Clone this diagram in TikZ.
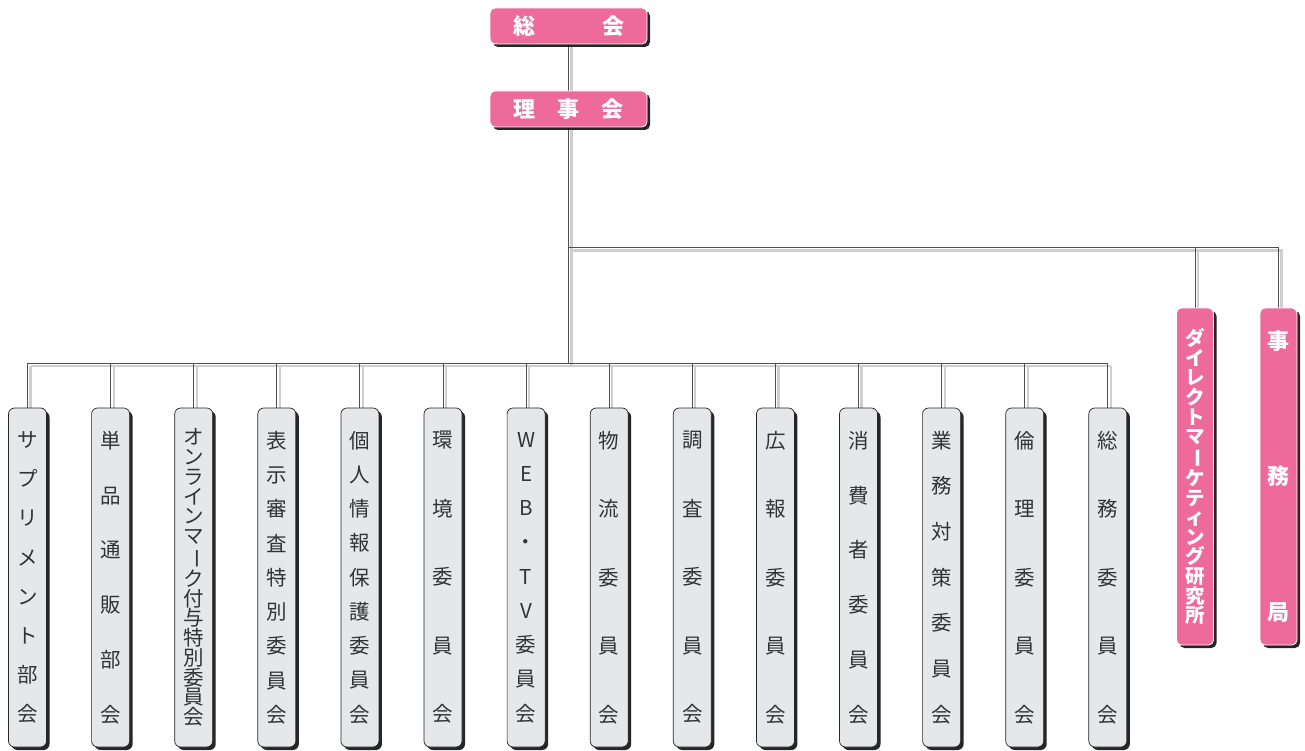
\documentclass[tikz,border=0pt]{standalone}
\usepackage{fontspec}
\usepackage{graphicx}
\newfontfamily\cjk{Noto Sans CJK JP}
\usetikzlibrary{shadows}
\definecolor{pinkc}{HTML}{EE6A9B}
\definecolor{grayc}{HTML}{E6E7E9}
\definecolor{linec}{HTML}{505050}
\definecolor{shc}{HTML}{CFCFCF}
\newcommand\vbar{\rotatebox[origin=c]{-90}{ー}}
\pgfdeclarelayer{bg}
\pgfdeclarelayer{lines}
\pgfsetlayers{bg,lines,main}
\tikzset{
  conn/.style={draw=linec, line width=1pt},
  connsh/.style={draw=shc, line width=2.2pt, transform canvas={xshift=3pt,yshift=-3pt}},
  boxshadow/.style={drop shadow={shadow xshift=3pt, shadow yshift=-3pt, fill=black, opacity=0.85}},
  pbox/.style={rounded corners=5pt, fill=pinkc, draw=white, line width=0.8pt, text=white,
    inner sep=0pt, align=center, boxshadow},
  gbox/.style={rounded corners=6pt, fill=grayc, draw=black!85, line width=0.7pt, text=black!80,
    minimum width=38pt, minimum height=339pt, inner sep=0pt, align=center, boxshadow,
    font=\cjk\fontsize{20.5}{#1}\selectfont},
}
\begin{document}
\begin{tikzpicture}[x=1pt,y=-1pt]
\begin{pgfonlayer}{bg}
\fill[white] (0,0) rectangle (1305,751);
\end{pgfonlayer}
\useasboundingbox (0,0) rectangle (1305,751);

% top boxes
\node[pbox, minimum width=157pt, minimum height=36pt, font=\cjk\bfseries\fontsize{22}{26}\selectfont]
  (soukai) at (568.5,26) {総\hspace{67pt}会};
\node[pbox, minimum width=157pt, minimum height=36pt, font=\cjk\bfseries\fontsize{22}{26}\selectfont]
  (riji) at (568.5,109) {理\hspace{22.5pt}事\hspace{22.5pt}会};

% right pink tall boxes
\node[pbox, minimum width=37pt, minimum height=337pt, font=\cjk\bfseries\fontsize{19.5}{19.6}\selectfont]
  (dm) at (1195,476.5) {ダ\\イ\\レ\\ク\\ト\\マ\\\vbar\\ケ\\テ\\ィ\\ン\\グ\\研\\究\\所};
\node[pbox, minimum width=37pt, minimum height=337pt, font=\cjk\bfseries\fontsize{22}{135.5}\selectfont]
  (jim) at (1278.5,476.5) {事\\務\\局};

% gray committee boxes
\node[gbox=39.14] (g1) at (27.5,577.5) {サ\\プ\\リ\\メ\\ン\\ト\\部\\会};
\node[gbox=54.8] (g2) at (110.6,577.5) {単\\品\\通\\販\\部\\会};
\node[gbox=19.7] (g3) at (193.7,577.5) {オ\\ン\\ラ\\イ\\ン\\マ\\\vbar\\ク\\付\\与\\特\\別\\委\\員\\会};
\node[gbox=34.25] (g4) at (276.8,577.5) {表\\示\\審\\査\\特\\別\\委\\員\\会};
\node[gbox=34.25] (g5) at (359.9,577.5) {個\\人\\情\\報\\保\\護\\委\\員\\会};
\node[gbox=68.5] (g6) at (443.0,577.5) {環\\境\\委\\員\\会};
\node[gbox=34.25] (g7) at (526.1,577.5) {W\\E\\B\\・\\T\\V\\委\\員\\会};
\node[gbox=68.5] (g8) at (609.2,577.5) {物\\流\\委\\員\\会};
\node[gbox=68.5] (g9) at (692.3,577.5) {調\\査\\委\\員\\会};
\node[gbox=68.5] (g10) at (775.4,577.5) {広\\報\\委\\員\\会};
\node[gbox=54.8] (g11) at (858.5,577.5) {消\\費\\者\\委\\員\\会};
\node[gbox=45.67] (g12) at (941.6,577.5) {業\\務\\対\\策\\委\\員\\会};
\node[gbox=68.5] (g13) at (1024.7,577.5) {倫\\理\\委\\員\\会};
\node[gbox=68.5] (g14) at (1107.8,577.5) {総\\務\\委\\員\\会};

\coordinate (ju) at (568.5,247.5);
\coordinate (jl) at (568.5,363);

\begin{pgfonlayer}{lines}
\foreach \s in {connsh,conn}{
  \draw[\s] (soukai.south) -- (riji.north);
  \draw[\s] (riji.south) -- (jl);
  \draw[\s] (ju) -- (jim.north |- ju) -- (jim.north);
  \draw[\s] (dm.north |- ju) -- (dm.north);
  \draw[\s] (g1.north |- jl) -- (g14.north |- jl);
  \foreach \i in {1,...,14}{
    \draw[\s] (g\i.north |- jl) -- (g\i.north);
  }
}
\end{pgfonlayer}
\end{tikzpicture}
\end{document}
